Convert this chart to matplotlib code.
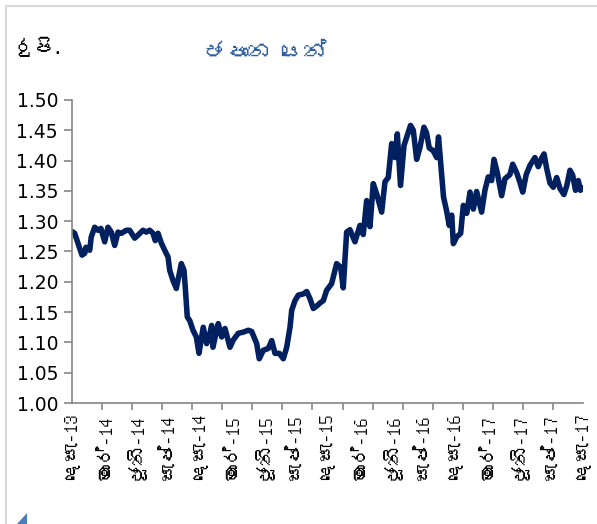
import matplotlib
matplotlib.use("Agg")
import matplotlib.pyplot as plt
import matplotlib.patches as patches
from matplotlib import font_manager
from matplotlib.ft2font import FT2Font
from matplotlib.lines import Line2D
import numpy as np

# months since Dec-2013 and JPY/LKR rate
months = [0.00, 0.25, 0.56, 0.94, 1.19, 1.31, 1.66, 1.81, 2.13, 2.44, 2.72, 3.07,
          3.38, 3.69, 4.01, 4.32, 4.63, 5.10, 5.42, 5.89, 6.20, 6.67, 6.98, 7.30,
          7.61, 7.82, 8.08, 8.39, 8.71, 9.02, 9.18, 9.49, 9.80, 10.02, 10.27, 10.52,
          10.64, 10.83, 11.06, 11.37, 11.68, 11.93, 12.33, 12.65, 12.96, 13.12, 13.24,
          13.59, 13.74, 14.06, 14.37, 14.84, 15.15, 15.62, 16.09, 16.56, 16.88, 17.35,
          17.59, 17.97, 18.44, 18.76, 19.07, 19.47, 19.85, 20.17, 20.48, 20.64, 20.95,
          21.26, 21.73, 22.05, 22.36, 22.67, 22.99, 23.30, 23.61, 23.92, 24.39, 24.86,
          25.24, 25.48, 25.80, 26.11, 26.58, 27.05, 27.36, 27.68, 27.99, 28.30, 28.62,
          29.09, 29.40, 29.71, 30.03, 30.34, 30.56, 30.86, 31.19, 31.50, 31.80, 32.06,
          32.38, 32.69, 33.06, 33.30, 33.56, 33.94, 34.26, 34.43, 34.71, 34.90, 35.20,
          35.44, 35.67, 35.82, 36.14, 36.51, 36.76, 37.08, 37.39, 37.70, 38.01, 38.48,
          38.79, 39.10, 39.42, 39.64, 39.95, 40.36, 40.67, 41.14, 41.40, 41.77, 42.08,
          42.34, 42.67, 43.02, 43.49, 43.80, 44.12, 44.34, 44.59, 44.90, 45.21, 45.53,
          45.84, 46.21, 46.47, 46.78, 47.03, 47.30, 47.56, 47.76, 48.00]
rate = [1.283, 1.280, 1.264, 1.244, 1.247, 1.257, 1.252, 1.274, 1.290, 1.285, 1.288, 1.266,
        1.290, 1.282, 1.260, 1.282, 1.280, 1.285, 1.285, 1.272, 1.277, 1.285, 1.282, 1.285,
        1.280, 1.268, 1.280, 1.264, 1.252, 1.241, 1.219, 1.202, 1.189, 1.208, 1.230, 1.219,
        1.191, 1.142, 1.136, 1.120, 1.109, 1.082, 1.125, 1.098, 1.115, 1.128, 1.092,
        1.120, 1.131, 1.109, 1.123, 1.092, 1.104, 1.115, 1.117, 1.120, 1.118, 1.098,
        1.073, 1.087, 1.090, 1.103, 1.082, 1.082, 1.073, 1.092, 1.125, 1.153, 1.169,
        1.178, 1.180, 1.184, 1.172, 1.156, 1.160, 1.165, 1.169, 1.186, 1.197, 1.230,
        1.224, 1.190, 1.282, 1.286, 1.266, 1.293, 1.278, 1.334, 1.291, 1.362, 1.345,
        1.315, 1.365, 1.372, 1.428, 1.405, 1.444, 1.359, 1.425, 1.442, 1.458, 1.450,
        1.402, 1.422, 1.455, 1.446, 1.421, 1.416, 1.405, 1.439, 1.380, 1.340, 1.316,
        1.293, 1.310, 1.263, 1.274, 1.280, 1.326, 1.313, 1.348, 1.320, 1.349, 1.315,
        1.351, 1.373, 1.367, 1.402, 1.380, 1.342, 1.370, 1.377, 1.394, 1.380, 1.364,
        1.348, 1.377, 1.392, 1.405, 1.390, 1.404, 1.411, 1.387, 1.363, 1.356, 1.372,
        1.354, 1.344, 1.358, 1.384, 1.376, 1.351, 1.367, 1.351, 1.355]

month_labels = ["දෙසැ-13", "මාර්-14", "ජූනි-14", "සැප්-14", "දෙසැ-14", "මාර්-15",
                "ජූනි-15", "සැප්-15", "දෙසැ-15", "මාර්-16", "ජූනි-16", "සැප්-16",
                "දෙසැ-16", "මාර්-17", "ජූනි-17", "සැප්-17", "දෙසැ-17"]
y_ticks = [1.00, 1.05, 1.10, 1.15, 1.20, 1.25, 1.30, 1.35, 1.40, 1.45, 1.50]
title = "ජපාන යෙන්"
unit = "රුපි."


# look for any installed font with Sinhala glyphs, fall back to DejaVu
def sinhala_family():
    for f in font_manager.fontManager.ttflist:
        try:
            if 0x0DA2 in FT2Font(f.fname).get_charmap():
                return f.name
        except Exception:
            pass
    return None

fam = sinhala_family()
fams = ([fam] if fam else []) + ["DejaVu Sans"]
plt.rcParams['font.family'] = fams

fig = plt.figure(figsize=(5.97, 5.24), dpi=100)
ax = fig.add_axes([0.1206, 0.2309, 0.8559, 0.5783])

ax.plot(months, rate, color='#002060', linewidth=4.0, solid_joinstyle='round',
        solid_capstyle='round')

ax.set_xlim(0, 48)
ax.set_ylim(1.0, 1.5)
ax.set_yticks(y_ticks)
ax.set_yticklabels(["%.2f" % v for v in y_ticks], fontsize=13.5, family=['DejaVu Sans'])

# labels every quarter, tick marks on a separate spacing (as in the source)
ax.set_xticks(np.arange(0, 49, 3))
ax.set_xticklabels(month_labels, rotation=90, fontsize=13.5)
ax.tick_params(axis='x', which='major', length=0, pad=8)
ax.set_xticks(np.linspace(0, 48, 18), minor=True)
ax.tick_params(axis='x', which='minor', length=5, width=1.2, color='#868686', direction='out')
ax.tick_params(axis='y', length=6, width=1.2, color='#868686', direction='out', pad=4)

for s in ['top', 'right']:
    ax.spines[s].set_visible(False)
for s in ['left', 'bottom']:
    ax.spines[s].set_color('#868686')
    ax.spines[s].set_linewidth(1.2)

fig.text(0.445, 0.90, title, color='#2F5E9E', fontsize=16, ha='center', va='center')
fig.text(0.025, 0.91, unit, color='black', fontsize=14, ha='left', va='center')

# outer frame (only top and left are visible in the crop)
fig.add_artist(Line2D([0.010, 1.0], [0.989, 0.989], transform=fig.transFigure,
                      color='#d9d9d9', linewidth=1.5))
fig.add_artist(Line2D([0.010, 0.010], [0.0, 0.989], transform=fig.transFigure,
                      color='#d9d9d9', linewidth=1.5))
fig.add_artist(patches.Polygon([[0.028, 0.0], [0.045, 0.0], [0.045, 0.021]],
                               closed=True, transform=fig.transFigure,
                               facecolor='#4a7ebb', edgecolor='none'))

fig.savefig("out.png", dpi=100)
